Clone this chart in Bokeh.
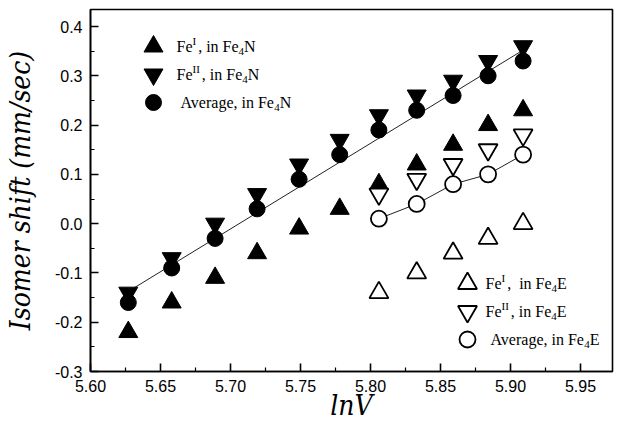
import numpy as np
from bokeh.plotting import figure
from bokeh.models import Range1d, FixedTicker, PrintfTickFormatter, Label
from bokeh.embed import file_html
from bokeh.resources import INLINE

# ---------------- data ----------------
lnV = [5.627, 5.658, 5.689, 5.719, 5.749, 5.778, 5.806, 5.833, 5.859, 5.884, 5.909]
fe1_N = [-0.22, -0.16, -0.11, -0.06, -0.01, 0.03, 0.08, 0.12, 0.16, 0.20, 0.23]
fe2_N = [-0.14, -0.07, 0.00, 0.06, 0.12, 0.17, 0.22, 0.26, 0.29, 0.33, 0.36]
avg_N = [-0.16, -0.09, -0.03, 0.03, 0.09, 0.14, 0.19, 0.23, 0.26, 0.30, 0.33]

lnV_E = [5.806, 5.833, 5.859, 5.884, 5.909]
fe1_E = [-0.14, -0.10, -0.06, -0.03, 0.00]
fe2_E = [0.06, 0.09, 0.12, 0.15, 0.18]
avg_E = [0.01, 0.04, 0.08, 0.10, 0.14]

x_ticks = [5.60, 5.65, 5.70, 5.75, 5.80, 5.85, 5.90, 5.95]
x_minor = [5.625, 5.675, 5.725, 5.775, 5.825, 5.875, 5.925]
y_ticks = [-0.3, -0.2, -0.1, 0.0, 0.1, 0.2, 0.3, 0.4]
y_minor = [-0.25, -0.15, -0.05, 0.05, 0.15, 0.25, 0.35]

XR = (5.60, 5.97286)
YR = (-0.30, 0.4345)

# frame geometry (pixels in the picture)
FL, FT, FW, FH = 90, 9, 522, 362

SERIF = "Liberation Serif"
SERIF_ITALIC = "DejaVu Serif Condensed, DejaVu Serif"

p = figure(frame_width=FW, frame_height=FH,
           x_range=Range1d(*XR), y_range=Range1d(*YR),
           output_backend="svg", toolbar_location=None,
           min_border_left=FL, min_border_top=FT,
           min_border_right=9, min_border_bottom=5,
           background_fill_color="white", border_fill_color="white")

p.grid.visible = False
p.outline_line_color = "black"
p.outline_line_width = 1.6
p.outline_line_alpha = 1.0

for ax, ticks, minor, fmt in ((p.xaxis, x_ticks, x_minor, "%.2f"),
                              (p.yaxis, y_ticks, y_minor, "%.1f")):
    ax.ticker = FixedTicker(ticks=ticks, minor_ticks=minor)
    ax.formatter = PrintfTickFormatter(format=fmt)
    ax.major_tick_in = 8
    ax.major_tick_out = 0
    ax.minor_tick_in = 4
    ax.minor_tick_out = 0
    ax.axis_line_width = 1.6
    ax.major_tick_line_width = 1.6
    ax.minor_tick_line_width = 1.2
    ax.axis_line_color = "black"
    ax.major_tick_line_color = "black"
    ax.minor_tick_line_color = "black"
    ax.major_label_text_font = "Liberation Sans"
    ax.major_label_text_font_size = "16px"
    ax.major_label_text_color = "black"
    ax.major_label_standoff = 8
    ax.axis_label_text_font = SERIF_ITALIC
    ax.axis_label_text_font_style = "italic"
    ax.axis_label_text_font_size = "28px"
    ax.axis_label_text_color = "black"

p.xaxis.axis_label = "lnV"
p.yaxis.axis_label = "Isomer shift (mm/sec)"
p.xaxis.axis_label_standoff = -6
p.yaxis.axis_label_standoff = 15

# linear fit through Fe4N averages
k, b = np.polyfit(lnV, avg_N, 1)
fit_x = [lnV[0], lnV[-1]]
p.line(fit_x, [k * v + b for v in fit_x], line_color="#222222", line_width=1)
# connecting line of Fe4E averages
p.line(lnV_E, avg_E, line_color="#222222", line_width=1)

TRI, CIR = 19, 16
p.scatter(lnV, fe1_N, marker="triangle", size=TRI, fill_color="black", line_color="black")
p.scatter(lnV, avg_N, marker="circle", size=CIR, fill_color="black", line_color="black")
p.scatter(lnV, fe2_N, marker="inverted_triangle", size=TRI, fill_color="black", line_color="black")

p.scatter(lnV_E, fe1_E, marker="triangle", size=TRI, fill_color="white", line_color="black", line_width=1.8)
p.scatter(lnV_E, fe2_E, marker="inverted_triangle", size=TRI, fill_color="white", line_color="black", line_width=1.8)
p.scatter(lnV_E, avg_E, marker="circle", size=CIR, fill_color="white", line_color="black", line_width=1.8)

# ---------------- legends ----------------
def px2x(px):
    return XR[0] + (px - FL) / FW * (XR[1] - XR[0])

def py2y(py):
    return YR[1] - (py - FT) / FH * (YR[1] - YR[0])

W = {"F": 556, "e": 444, ",": 250, " ": 250, "\u00a0": 250, "i": 278, "n": 500, "N": 722,
     "E": 611, "A": 722, "v": 500, "r": 333, "a": 444, "g": 500, "I": 333, "4": 500}

def width(s, size):
    return sum(W.get(c, 500) for c in s) * size / 1000.0

def compose(px, py, pieces):
    x0, y0 = px2x(px), py2y(py)
    off = 0.0
    for txt, size, dy, gap in pieces:
        p.add_layout(Label(x=x0, y=y0, x_offset=off, y_offset=dy, text=txt,
                           text_font=SERIF, text_font_size=f"{size}px",
                           text_color="black", text_baseline="middle", text_align="left"))
        off += width(txt, size) + gap

def fe_pieces(sup, sep, host):
    return [("Fe", 16, 0, 0), (sup, 11, 6, 2), (sep + "in Fe", 16, 0, 0),
            ("4", 11, -5, 0), (host, 16, 0, 0)]

def avg_pieces(host):
    return [("Average, in Fe", 16, 0, -1), ("4", 11, -5, 0), (host, 16, 0, 0)]

legend_rows = [
    (153, 46, "triangle", "black", 176, fe_pieces("I", ", ", "N")),
    (153, 74, "inverted_triangle", "black", 176, fe_pieces("II", ", ", "N")),
    (153, 102, "circle", "black", 180, avg_pieces("N")),
    (467, 283, "triangle", "white", 485, fe_pieces("I", ",\u00a0 ", "E")),
    (467, 311, "inverted_triangle", "white", 485, fe_pieces("II", ", ", "E")),
    (467, 339, "circle", "white", 490, avg_pieces("E")),
]

for mx, my, mk, fill, tx, pieces in legend_rows:
    p.scatter([px2x(mx)], [py2y(my)], marker=mk,
              size=CIR if mk == "circle" else TRI,
              fill_color=fill, line_color="black",
              line_width=1.8 if fill == "white" else 1)
    compose(tx, my, pieces)

open("out.html", "w").write(file_html(p, INLINE))
